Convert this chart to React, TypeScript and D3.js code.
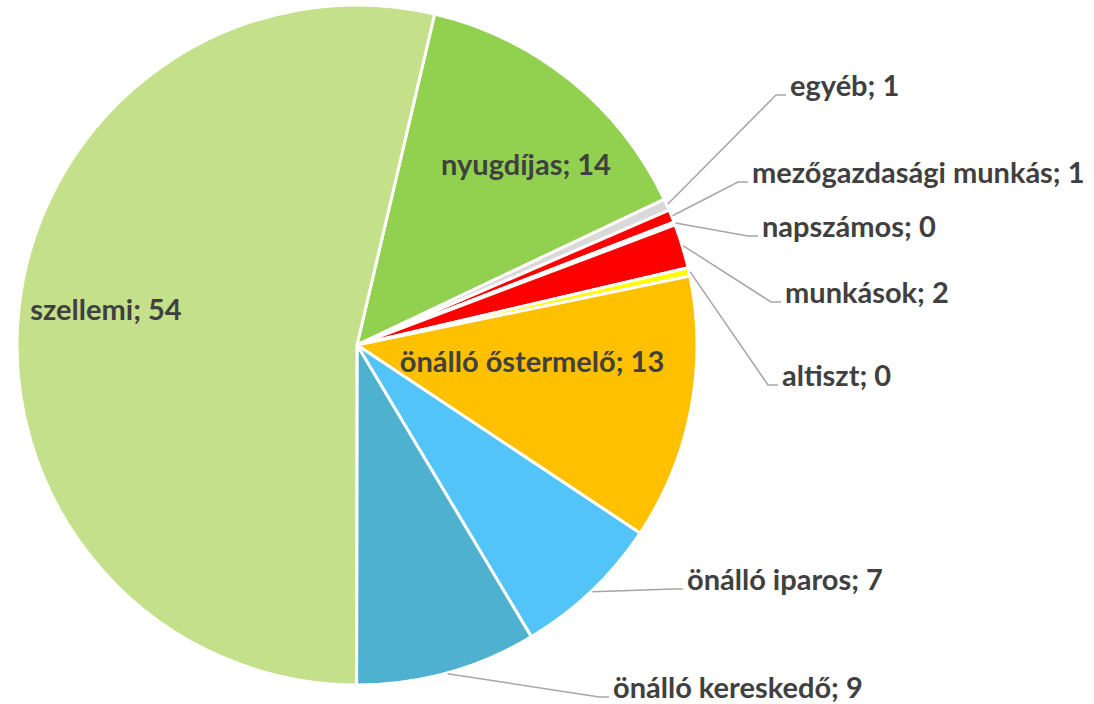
import React from "react";
import * as d3 from "d3";

// shares, in drawing order (clockwise)
const categories = [
  "nyugdíjas",
  "egyéb",
  "mezőgazdasági munkás",
  "napszámos",
  "munkások",
  "altiszt",
  "önálló őstermelő",
  "önálló iparos",
  "önálló kereskedő",
  "szellemi",
];
const values = [14.3, 0.56, 0.6, 0.14, 2.1, 0.4, 12.6, 7.1, 8.6, 53.7];
const colors = [
  "#92D050",
  "#D9D9D9",
  "#FF0000",
  "#FF0000",
  "#FF0000",
  "#FFFF00",
  "#FFC000",
  "#53C4F7",
  "#4DB1CF",
  "#C4E08A",
];

// where each label sits: x / baseline y. inside labels are centred,
// outside ones start at x and get a leader line along their baseline
const labelLayout = [
  { inside: true, x: 526, y: 175 },
  { inside: false, x: 790, y: 96 },
  { inside: false, x: 752, y: 183 },
  { inside: false, x: 762, y: 237 },
  { inside: false, x: 785, y: 303 },
  { inside: false, x: 782, y: 386 },
  { inside: true, x: 532, y: 372 },
  { inside: false, x: 687, y: 590 },
  { inside: false, x: 613, y: 698 },
  { inside: true, x: 106, y: 320 },
];

const width = 1094;
const height = 704;
const cx = 357;
const cy = 345;
const radius = 340;
const start = (13.2 * Math.PI) / 180;

export default function App() {
  const pie = d3
    .pie<number>()
    .sort(null)
    .value((d) => d)
    .startAngle(start)
    .endAngle(start + 2 * Math.PI);
  const arcs = pie(values);
  const arc = d3.arc<d3.PieArcDatum<number>>().innerRadius(0).outerRadius(radius);

  return (
    <svg
      width={width}
      height={height}
      style={{ position: "absolute", left: 0, top: 0, background: "#fff" }}
      fontFamily="Lato, 'Open Sans', sans-serif"
    >
      <g transform={`translate(${cx},${cy})`}>
        {arcs.map((a, i) => (
          <path
            key={categories[i]}
            d={arc(a) || ""}
            fill={colors[i]}
            stroke="#fff"
            strokeWidth={3}
            strokeLinejoin="round"
          />
        ))}
      </g>
      {arcs.map((a, i) => {
        const lay = labelLayout[i];
        const text = `${categories[i]}; ${Math.round(values[i])}`;
        if (lay.inside) {
          return (
            <text
              key={"t" + i}
              x={lay.x}
              y={lay.y}
              textAnchor="middle"
              fontSize={29}
              fontWeight="bold"
              fill="#404040"
            >
              {text}
            </text>
          );
        }
        const mid = (a.startAngle + a.endAngle) / 2;
        const sx = cx + (radius + 1) * Math.sin(mid);
        const sy = cy - (radius + 1) * Math.cos(mid);
        const ly = lay.y - 1;
        const pts: [number, number][] = [
          [sx, sy],
          [lay.x - 14, ly],
          [lay.x - 4, ly],
        ];
        return (
          <g key={"t" + i}>
            <path
              d={d3.line()(pts) || ""}
              fill="none"
              stroke="#A6A6A6"
              strokeWidth={1.5}
            />
            <text
              x={lay.x}
              y={lay.y}
              fontSize={29}
              fontWeight="bold"
              fill="#404040"
            >
              {text}
            </text>
          </g>
        );
      })}
    </svg>
  );
}
